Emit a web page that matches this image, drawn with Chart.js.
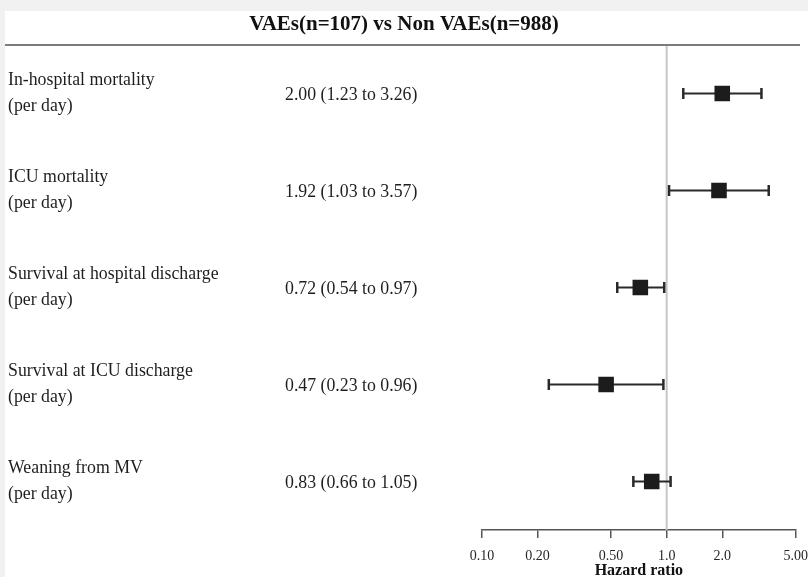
<!DOCTYPE html>
<html lang="en">
<head>
    <meta charset="UTF-8">
    <title>VAEs(n=107) vs Non VAEs(n=988)</title>
    <script src="https://cdn.jsdelivr.net/npm/chart.js@4.4.1/dist/chart.umd.min.js"></script>
    <style>
        html, body { margin: 0; padding: 0; background: #fff; }
        canvas { display: block; }
    </style>
</head>
<body>
<canvas id="chart" width="808" height="577"></canvas>
<script>
    // forest plot data
    const outcomes = ['In-hospital mortality', 'ICU mortality', 'Survival at hospital discharge', 'Survival at ICU discharge', 'Weaning from MV'];
    const subLabel = '(per day)';
    const hazardRatio = [2.00, 1.92, 0.72, 0.47, 0.83];
    const ciLower = [1.23, 1.03, 0.54, 0.23, 0.66];
    const ciUpper = [3.26, 3.57, 0.97, 0.96, 1.05];
    const tickValues = [0.1, 0.2, 0.5, 1, 2, 5];
    const tickLabels = ['0.10', '0.20', '0.50', '1.0', '2.0', '5.00'];

    const serif = "'Liberation Serif', 'DejaVu Serif', serif";

    const forestPlugin = {
        id: 'forest',
        beforeDraw(chart) {
            const c = chart.ctx;
            c.save();
            c.fillStyle = '#fff';
            c.fillRect(0, 0, chart.width, chart.height);
            c.fillStyle = '#f1f1f1';
            c.fillRect(0, 0, chart.width, 11);
            c.fillRect(0, 0, 5, chart.height);
            c.restore();
        },
        beforeDatasetsDraw(chart) {
            const c = chart.ctx;
            const xs = chart.scales.x, ys = chart.scales.y;
            const area = chart.chartArea;
            c.save();
            // reference line at HR = 1
            const x1 = xs.getPixelForValue(1);
            c.strokeStyle = '#c6c6c6';
            c.lineWidth = 2;
            c.beginPath();
            c.moveTo(x1, area.top);
            c.lineTo(x1, area.bottom);
            c.stroke();
            // confidence intervals
            c.strokeStyle = '#2a2a2a';
            hazardRatio.forEach((v, i) => {
                const y = ys.getPixelForValue(i + 1);
                const a = xs.getPixelForValue(ciLower[i]);
                const b = xs.getPixelForValue(ciUpper[i]);
                c.lineWidth = 2;
                c.beginPath();
                c.moveTo(a, y);
                c.lineTo(b, y);
                c.stroke();
                c.lineWidth = 2.5;
                c.beginPath();
                c.moveTo(a, y - 5.5); c.lineTo(a, y + 5.5);
                c.moveTo(b, y - 5.5); c.lineTo(b, y + 5.5);
                c.stroke();
            });
            c.restore();
        },
        afterDraw(chart) {
            const c = chart.ctx;
            const ys = chart.scales.y;
            c.save();
            // rule under the title
            c.strokeStyle = '#7c7c7c';
            c.lineWidth = 2;
            c.beginPath();
            c.moveTo(5, 45);
            c.lineTo(800, 45);
            c.stroke();
            c.fillStyle = '#1e1e1e';
            c.textAlign = 'left';
            c.textBaseline = 'middle';
            c.font = '17.8px ' + serif;
            outcomes.forEach((name, i) => {
                const y = ys.getPixelForValue(i + 1);
                c.fillText(name, 8, y - 13);
                c.fillText(subLabel, 8, y + 13);
                const txt = hazardRatio[i].toFixed(2) + ' (' + ciLower[i].toFixed(2) + ' to ' + ciUpper[i].toFixed(2) + ')';
                c.fillText(txt, 285, y + 1.5);
            });
            c.restore();
        }
    };

    new Chart(document.getElementById('chart'), {
        type: 'scatter',
        data: {
            datasets: [{
                data: hazardRatio.map((v, i) => ({ x: v, y: i + 1 })),
                pointStyle: 'rect',
                pointRadius: 11,
                pointHoverRadius: 11,
                backgroundColor: '#1c1c1c',
                borderColor: '#1c1c1c',
                borderWidth: 0
            }]
        },
        options: {
            responsive: false,
            animation: false,
            devicePixelRatio: 1,
            events: [],
            plugins: {
                legend: { display: false },
                tooltip: { enabled: false },
                title: {
                    display: true,
                    text: 'VAEs(n=107) vs Non VAEs(n=988)',
                    color: '#111',
                    font: { family: serif, size: 21, weight: 'bold' },
                    padding: { top: 12, bottom: 7.8 }
                }
            },
            scales: {
                x: {
                    type: 'logarithmic',
                    position: 'bottom',
                    min: 0.1,
                    max: 5,
                    afterBuildTicks: s => { s.ticks = tickValues.map(v => ({ value: v })); },
                    ticks: {
                        autoSkip: false,
                        maxRotation: 0,
                        padding: 0,
                        color: '#262626',
                        font: { family: serif, size: 14, lineHeight: 2.571 },
                        callback: (v, i) => tickLabels[i]
                    },
                    grid: { drawOnChartArea: false, tickLength: 8, color: '#555', lineWidth: 1.5 },
                    border: { color: '#555', width: 1.5 },
                    title: {
                        display: true,
                        text: 'Hazard ratio',
                        color: '#111',
                        font: { family: serif, size: 16, weight: 'bold', lineHeight: 0.8 },
                        padding: { top: -9.8, bottom: 0 }
                    }
                },
                y: {
                    type: 'linear',
                    min: 0.5,
                    max: 5.5,
                    reverse: true,
                    afterFit: s => { s.width = 482; },
                    ticks: { display: false },
                    grid: { display: false },
                    border: { display: false }
                }
            }
        },
        plugins: [forestPlugin]
    });
</script>
</body>
</html>
